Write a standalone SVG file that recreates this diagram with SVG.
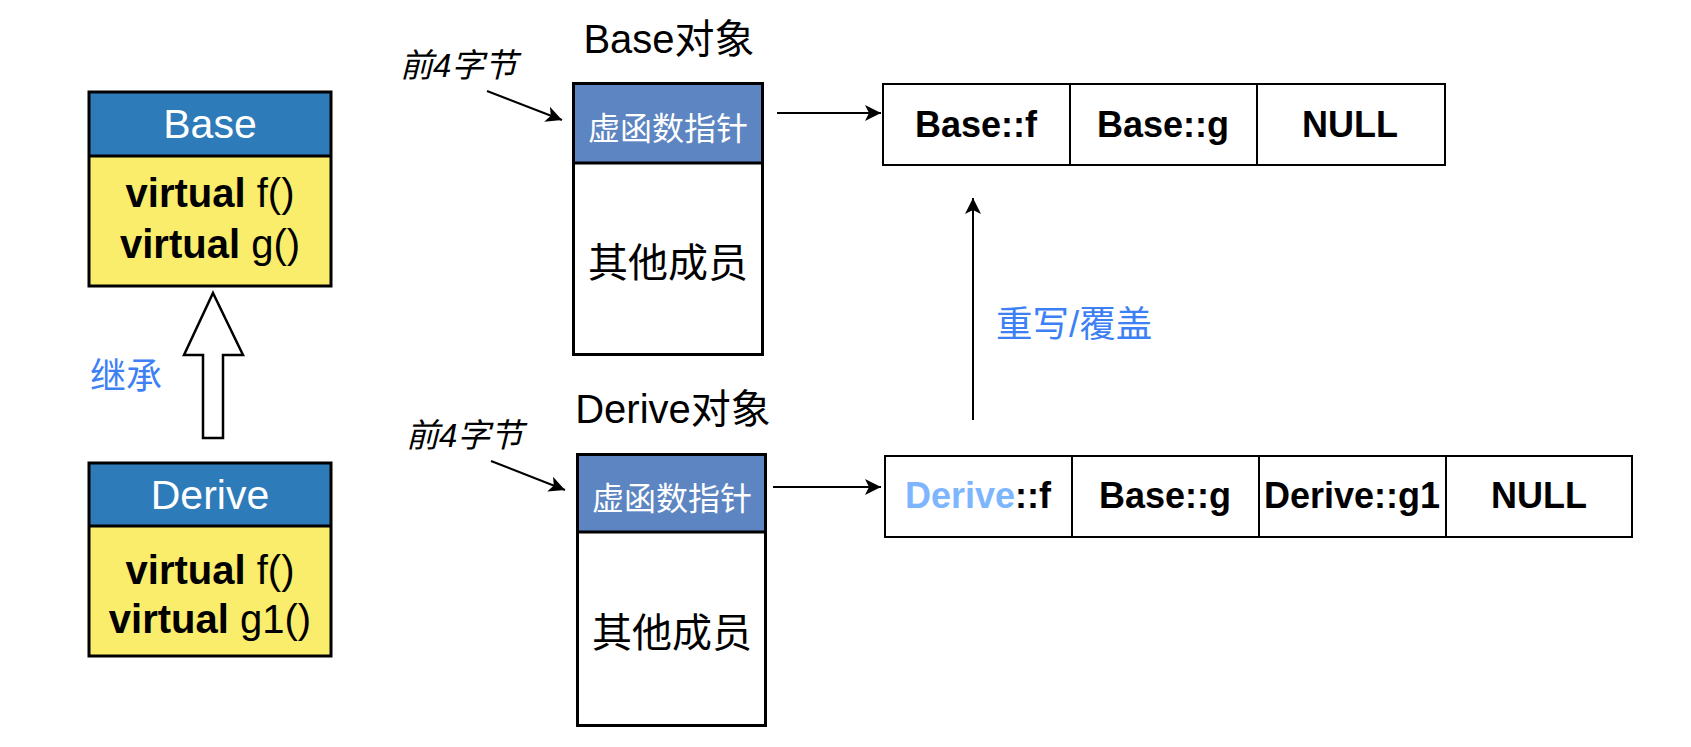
<svg xmlns="http://www.w3.org/2000/svg" width="1691" height="747" viewBox="0 0 1691 747">
<style>
text{font-family:"Liberation Sans","Noto Sans CJK SC",sans-serif;}
.box{fill:none;stroke:#000;stroke-width:3;}
.thin{fill:none;stroke:#000;stroke-width:2;}
.clshead{fill:#2E7BBA;}
.clsbody{fill:#F9ED6B;}
.objhead{fill:#5D85C1;}
.wt{fill:#fff;text-anchor:middle;}
.bk{fill:#000;text-anchor:middle;}
.blue{fill:#3D80F5;}
.cell{font-weight:bold;font-size:36px;fill:#000;text-anchor:middle;}
.conn{stroke:#000;stroke-width:2;fill:none;marker-end:url(#arr);}
</style>
<defs>
<marker id="arr" markerUnits="userSpaceOnUse" markerWidth="18" markerHeight="16" refX="16" refY="8" orient="auto">
<path d="M0,0 L16,8 L0,16 L4,8 z" fill="#000"/>
</marker>
</defs>

<g id="base-class">
<rect class="clshead" x="89" y="92" width="242" height="64"/>
<rect class="clsbody" x="89" y="156" width="242" height="130"/>
<rect class="box" x="89" y="92" width="242" height="194"/>
<line x1="89" y1="156" x2="331" y2="156" stroke="#000" stroke-width="3"/>
<text class="wt" x="210" y="138" font-size="41">Base</text>
<text class="bk" x="210" y="207" font-size="40"><tspan font-weight="bold">virtual</tspan> f()</text>
<text class="bk" x="210" y="258" font-size="40"><tspan font-weight="bold">virtual</tspan> g()</text>
</g>

<g id="derive-class">
<rect class="clshead" x="89" y="463" width="242" height="63"/>
<rect class="clsbody" x="89" y="526" width="242" height="130"/>
<rect class="box" x="89" y="463" width="242" height="193"/>
<line x1="89" y1="526" x2="331" y2="526" stroke="#000" stroke-width="3"/>
<text class="wt" x="210" y="509" font-size="41">Derive</text>
<text class="bk" x="210" y="584" font-size="40"><tspan font-weight="bold">virtual</tspan> f()</text>
<text class="bk" x="210" y="633" font-size="40"><tspan font-weight="bold">virtual</tspan> g1()</text>
</g>

<g id="inherit">
<polygon points="213,293 243,355 223,355 223,438 203,438 203,355 184,355" fill="#fff" stroke="#000" stroke-width="2.5"/>
<text class="blue" x="90" y="389" font-size="36">继承</text>
</g>

<g id="base-object">
<text class="bk" x="669" y="53" font-size="40">Base对象</text>
<rect class="objhead" x="573.5" y="83.5" width="189" height="79.5"/>
<rect class="box" x="573.5" y="83.5" width="189" height="271"/>
<line x1="573.5" y1="163" x2="762.5" y2="163" stroke="#000" stroke-width="3"/>
<text class="wt" x="668" y="140" font-size="32">虚函数指针</text>
<text class="bk" x="668" y="277" font-size="40">其他成员</text>
</g>

<g id="derive-object">
<text class="bk" x="673" y="423" font-size="40">Derive对象</text>
<rect class="objhead" x="577.5" y="454.5" width="188" height="77.5"/>
<rect class="box" x="577.5" y="454.5" width="188" height="271"/>
<line x1="577.5" y1="532" x2="765.5" y2="532" stroke="#000" stroke-width="3"/>
<text class="wt" x="672" y="510" font-size="32">虚函数指针</text>
<text class="bk" x="672" y="647" font-size="40">其他成员</text>
</g>

<g id="label-base-4bytes">
<text x="400" y="77" font-size="33" font-style="italic" fill="#000">前4字节</text>
</g>
<g id="label-derive-4bytes">
<text x="406" y="447" font-size="33" font-style="italic" fill="#000">前4字节</text>
</g>

<g id="base-vtable">
<rect class="thin" x="883" y="84" width="562" height="81"/>
<line x1="1070" y1="84" x2="1070" y2="165" stroke="#000" stroke-width="2"/>
<line x1="1257" y1="84" x2="1257" y2="165" stroke="#000" stroke-width="2"/>
<text class="cell" x="976" y="137">Base::f</text>
<text class="cell" x="1163" y="137">Base::g</text>
<text class="cell" x="1350" y="137">NULL</text>
</g>

<g id="derive-vtable">
<rect class="thin" x="885" y="456" width="747" height="81"/>
<line x1="1072" y1="456" x2="1072" y2="537" stroke="#000" stroke-width="2"/>
<line x1="1259" y1="456" x2="1259" y2="537" stroke="#000" stroke-width="2"/>
<line x1="1446" y1="456" x2="1446" y2="537" stroke="#000" stroke-width="2"/>
<text class="cell" x="978" y="508"><tspan fill="#7EB5FF">Derive</tspan>::f</text>
<text class="cell" x="1165" y="508">Base::g</text>
<text class="cell" x="1352" y="508">Derive::g1</text>
<text class="cell" x="1539" y="508">NULL</text>
</g>

<g id="override-label">
<text class="blue" x="996" y="337" font-size="36.5">重写/覆盖</text>
</g>

<g id="connectors">
<line class="conn" x1="487" y1="91" x2="562" y2="120"/>
<line class="conn" x1="491" y1="461" x2="565" y2="490"/>
<line class="conn" x1="777" y1="113" x2="881" y2="113"/>
<line class="conn" x1="773" y1="487" x2="881" y2="487"/>
<line class="conn" x1="973" y1="420" x2="973" y2="198"/>
</g>
</svg>
